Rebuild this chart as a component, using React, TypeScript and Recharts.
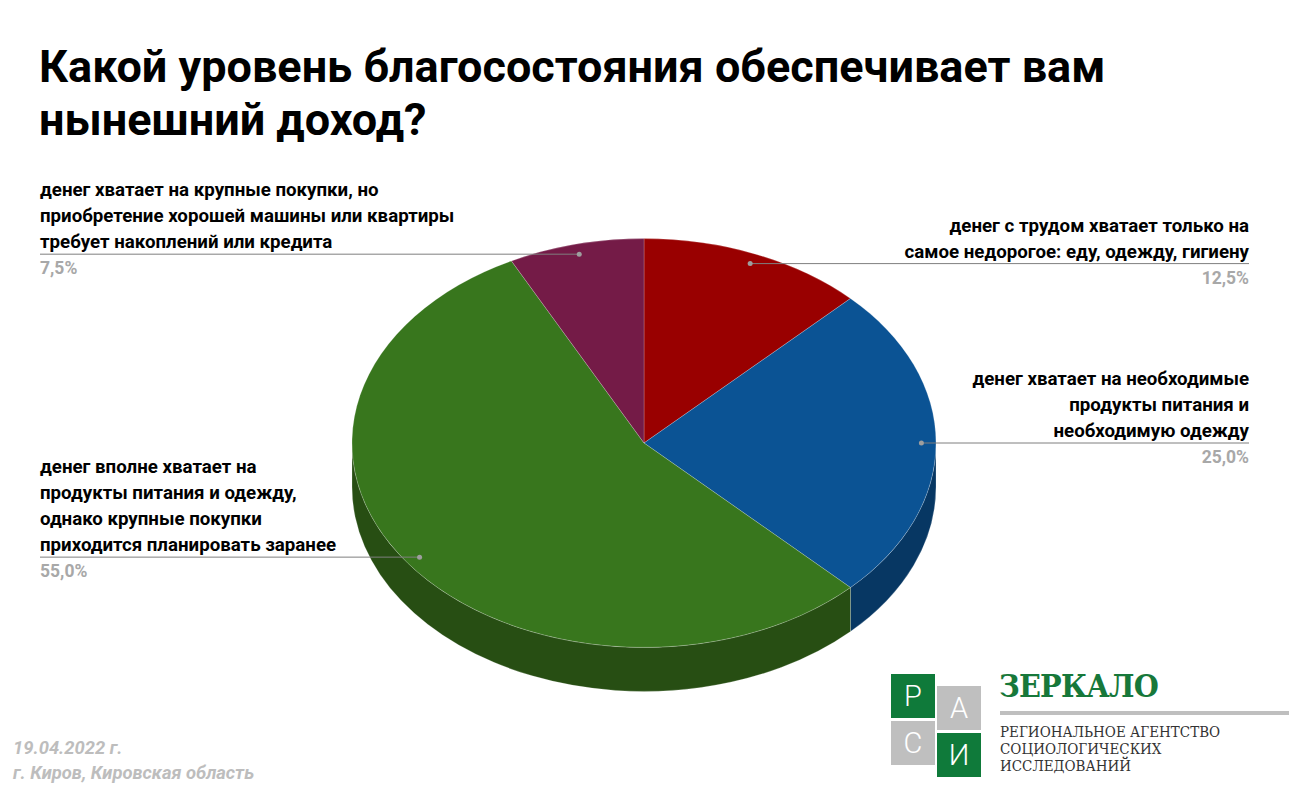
import { PieChart, Pie } from 'recharts'

const categories = [
  'денег с трудом хватает только на самое недорогое: еду, одежду, гигиену',
  'денег хватает на необходимые продукты питания и необходимую одежду',
  'денег вполне хватает на продукты питания и одежду, однако крупные покупки приходится планировать заранее',
  'денег хватает на крупные покупки, но приобретение хорошей машины или квартиры требует накоплений или кредита',
]
const labelLines = [
  ['денег с трудом хватает только на', 'самое недорогое: еду, одежду, гигиену'],
  ['денег хватает на необходимые', 'продукты питания и', 'необходимую одежду'],
  ['денег вполне хватает на', 'продукты питания и одежду,', 'однако крупные покупки', 'приходится планировать заранее'],
  ['денег хватает на крупные покупки, но', 'приобретение хорошей машины или квартиры', 'требует накоплений или кредита'],
]
const shares = [12.5, 25.0, 55.0, 7.5]
const topColors = ['#990000', '#0b5394', '#38761d', '#741b47']
const sideColors = ['#5e0000', '#073763', '#274e13', '#4c1130']

const data = categories.map((name, i) => ({
  name,
  value: shares[i],
  lines: labelLines[i],
  color: topColors[i],
  side: sideColors[i],
}))

const W = 1289
const H = 797
const TILT = 0.7 // vertical squash of the pie
const DEPTH = 44 // thickness of the 3D edge
const RAD = Math.PI / 180
const FONT = 'Roboto, "Noto Sans", sans-serif'
const SERIF = '"DejaVu Serif Condensed", "DejaVu Serif", serif'

function pt(cx: number, cy: number, rx: number, ry: number, a: number, dy = 0) {
  return `${cx + rx * Math.cos(a * RAD)},${cy - ry * Math.sin(a * RAD) + dy}`
}

// elliptical slice with its visible front edge
function EllipseSlice(props: any) {
  const { cx, cy, outerRadius, startAngle, endAngle } = props
  const p = props.payload ?? props
  const rx = outerRadius
  const ry = outerRadius * TILT
  const s = Math.max(startAngle, endAngle)
  const e = Math.min(startAngle, endAngle)
  const large = s - e > 180 ? 1 : 0
  const top = `M${cx},${cy} L${pt(cx, cy, rx, ry, s)} A${rx},${ry} 0 ${large} 1 ${pt(cx, cy, rx, ry, e)} Z`

  // front half of the ellipse is between -180 and 0 degrees
  const a = Math.max(e, -180)
  const b = Math.min(s, 0)
  let side = ''
  if (b > a) {
    const l = b - a > 180 ? 1 : 0
    side =
      `M${pt(cx, cy, rx, ry, b)} A${rx},${ry} 0 ${l} 1 ${pt(cx, cy, rx, ry, a)} ` +
      `L${pt(cx, cy, rx, ry, a, DEPTH)} A${rx},${ry} 0 ${l} 0 ${pt(cx, cy, rx, ry, b, DEPTH)} Z`
  }
  return (
    <g>
      {side && <path d={side} fill={p.side} stroke="rgba(255,255,255,0.3)" strokeWidth={0.7} />}
      <path d={top} fill={p.color} stroke="rgba(255,255,255,0.3)" strokeWidth={0.7} />
    </g>
  )
}

function SliceLabel(props: any) {
  const { cx, cy, outerRadius, midAngle, value } = props
  const p = props.payload ?? props
  const lines: string[] = p.lines ?? []
  const rx = outerRadius
  const ry = outerRadius * TILT
  const x0 = cx + 0.95 * rx * Math.cos(midAngle * RAD)
  const y0 = cy - 0.95 * ry * Math.sin(midAngle * RAD)
  const right = Math.cos(midAngle * RAD) >= 0
  const xEnd = right ? 1249 : 40
  const anchor = right ? 'end' : 'start'
  const pct = `${Number(value).toFixed(1).replace('.', ',')}%`
  return (
    <g>
      <line x1={x0} y1={y0} x2={xEnd} y2={y0} stroke="#7f7f7f" strokeWidth={1} />
      <circle cx={x0} cy={y0} r={2.5} fill="#9e9e9e" />
      {lines.map((t, i) => (
        <text
          key={i}
          x={xEnd}
          y={y0 - 12 - (lines.length - 1 - i) * 26}
          textAnchor={anchor}
          dominantBaseline="central"
          fontFamily={FONT}
          fontWeight={700}
          fontSize={18.7}
          fill="#000"
        >
          {t}
        </text>
      ))}
      <text
        x={xEnd}
        y={y0 + 14}
        textAnchor={anchor}
        dominantBaseline="central"
        fontFamily={FONT}
        fontWeight={700}
        fontSize={17.5}
        fill="#a8a8a8"
      >
        {pct}
      </text>
    </g>
  )
}

const square = (bg: string, left: number, top: number, letter: string) => (
  <div
    style={{
      position: 'absolute',
      left,
      top,
      width: 44,
      height: 44,
      background: bg,
      color: '#fff',
      fontFamily: FONT,
      fontWeight: 300,
      fontSize: 29,
      lineHeight: '44px',
      textAlign: 'center',
    }}
  >
    {letter}
  </div>
)

export default function App() {
  return (
    <div style={{ position: 'absolute', left: 0, top: 0, width: W, height: H, background: '#fff', overflow: 'hidden' }}>
      <div
        style={{
          position: 'absolute',
          left: 39,
          top: 40,
          fontFamily: FONT,
          fontWeight: 700,
          fontSize: 45,
          lineHeight: '53px',
          color: '#000',
          whiteSpace: 'nowrap',
        }}
      >
        Какой уровень благосостояния обеспечивает вам
        <br />
        нынешний доход?
      </div>

      <div style={{ position: 'absolute', left: 0, top: 0 }}>
        <PieChart width={W} height={H} margin={{ top: 0, right: 0, bottom: 0, left: 0 }}>
          <Pie
            data={data}
            dataKey="value"
            nameKey="name"
            cx={644}
            cy={443}
            outerRadius={292}
            startAngle={90}
            endAngle={-270}
            stroke="none"
            shape={EllipseSlice}
            label={SliceLabel}
            labelLine={false}
            isAnimationActive={false}
          />
        </PieChart>
      </div>

      <div
        style={{
          position: 'absolute',
          left: 13,
          top: 735,
          fontFamily: FONT,
          fontWeight: 700,
          fontStyle: 'italic',
          fontSize: 18.4,
          lineHeight: '25px',
          color: '#bdbdbd',
          whiteSpace: 'nowrap',
        }}
      >
        19.04.2022 г.
        <br />
        г. Киров, Кировская область
      </div>

      {square('#0f7a3a', 891, 674, 'Р')}
      {square('#bfbfbf', 937, 686, 'А')}
      {square('#bfbfbf', 891, 721, 'С')}
      {square('#0f7a3a', 937, 733, 'И')}
      <div
        style={{
          position: 'absolute',
          left: 999,
          top: 667,
          fontFamily: SERIF,
          fontWeight: 700,
          fontSize: 32,
          lineHeight: '38px',
          color: '#17783a',
          letterSpacing: -0.8,
          whiteSpace: 'nowrap',
        }}
      >
        ЗЕРКАЛО
      </div>
      <div style={{ position: 'absolute', left: 1000, top: 711, width: 289, height: 4, background: '#bfbfbf' }} />
      <div
        style={{
          position: 'absolute',
          left: 1000,
          top: 724,
          fontFamily: SERIF,
          fontSize: 15,
          lineHeight: '17px',
          color: '#333',
          whiteSpace: 'nowrap',
        }}
      >
        РЕГИОНАЛЬНОЕ АГЕНТСТВО
        <br />
        СОЦИОЛОГИЧЕСКИХ
        <br />
        ИССЛЕДОВАНИЙ
      </div>
    </div>
  )
}
